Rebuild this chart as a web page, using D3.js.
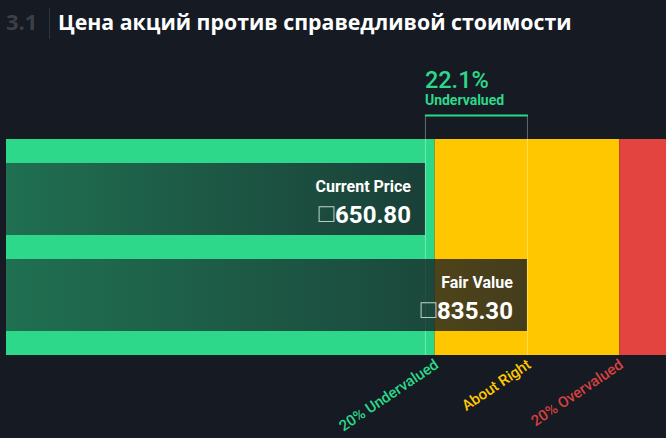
<!DOCTYPE html>
<html><head><meta charset="utf-8">
<script src="https://cdn.jsdelivr.net/npm/d3@7"></script>
<style>
html,body{margin:0;padding:0;background:#151a23;}
svg{display:block;}
</style></head>
<body>
<svg id="chart" width="666" height="438"></svg>
<script>
// ---- data ----
const currency = "\u25A1";
const barNames = ["Current Price", "Fair Value"];
const barValues = [650.80, 835.30];
const fairValue = 835.30;
const zoneNames = ["20% Undervalued", "About Right", "20% Overvalued"];
const zoneBounds = [0.8, 1.2]; // multiples of fair value
const diffPct = 22.1;
const diffLabel = "Undervalued";
const domainMin = -107, domainMax = 1086.9;
const sectionNum = "3.1";
const title = "Цена акций против справедливой стоимости";

(function(){
const W = 666, H = 438;
const C = {bg:"#151a23", green:"#2dd88a", yellow:"#ffc700", red:"#e4443f"};
const svg = d3.select("#chart");

const x = d3.scaleLinear().domain([domainMin, domainMax]).range([6, W]);
const y = d3.scaleBand().domain(barNames).range([139, 355]).paddingInner(0.25).paddingOuter(0.25);

// title
svg.append("text").attr("x", 6).attr("y", 30).text(sectionNum)
  .attr("font-family","Open Sans").attr("font-weight",700).attr("font-size",22).attr("fill","#3a3f48");
svg.append("line").attr("x1",49.5).attr("x2",49.5).attr("y1",8).attr("y2",39).attr("stroke","#2f353f").attr("stroke-width",1);
svg.append("text").attr("x", 58).attr("y", 30).text(title)
  .attr("font-family","Open Sans").attr("font-weight",700).attr("font-size",21.3).attr("fill","#ffffff");

// zones
const b0 = fairValue*zoneBounds[0], b1 = fairValue*zoneBounds[1];
const zones = [
  {from: domainMin, to: b0, color: C.green},
  {from: b0, to: b1, color: C.yellow},
  {from: b1, to: domainMax, color: C.red}
];
const yTop = y.range()[0], yBot = y.range()[1];
svg.append("g").selectAll("rect").data(zones).join("rect")
  .attr("x", d => x(d.from)).attr("width", d => x(d.to) - x(d.from))
  .attr("y", yTop).attr("height", yBot - yTop).attr("fill", d => d.color);

// bracket lines
const xc = x(barValues[0]), xf = x(barValues[1]);
const brTop = 115.5;
svg.append("g").selectAll("line").data([xc, xf]).join("line")
  .attr("x1", d => d + 0.5).attr("x2", d => d + 0.5).attr("y1", brTop).attr("y2", yBot)
  .attr("stroke","#ffffff").attr("stroke-opacity",0.35).attr("stroke-width",1);

// gradient
const defs = svg.append("defs");
const gr = defs.append("linearGradient").attr("id","barGrad").attr("x1","0").attr("x2","1").attr("y1","0").attr("y2","0");
gr.append("stop").attr("offset","0%").attr("stop-color",C.bg).attr("stop-opacity",0.55);
gr.append("stop").attr("offset","100%").attr("stop-color",C.bg).attr("stop-opacity",0.8);

const bars = barNames.map((n,i) => ({name:n, value:barValues[i]}));
svg.append("g").selectAll("rect").data(bars).join("rect")
  .attr("x", x(domainMin)).attr("y", d => y(d.name))
  .attr("width", d => x(d.value) - x(domainMin)).attr("height", y.bandwidth())
  .attr("fill","url(#barGrad)");

const lab = svg.append("g").selectAll("g").data(bars).join("g");
lab.append("text").attr("x", d => x(d.value) - 14).attr("y", d => y(d.name) + 28.5)
  .attr("text-anchor","end").attr("font-family","Roboto").attr("font-weight",700).attr("font-size",16)
  .attr("fill","#ffffff").text(d => d.name);
const vt = lab.append("text").attr("x", d => x(d.value) - 14).attr("y", d => y(d.name) + 59.5)
  .attr("text-anchor","end").attr("font-family","Roboto").attr("font-weight",700).attr("font-size",24)
  .attr("fill","#ffffff");
vt.append("tspan").attr("font-family","DejaVu Sans ExtraLight, DejaVu Sans").attr("font-weight",200)
  .attr("font-size",26).attr("fill","#d8e0dc").attr("fill-opacity",0.85).attr("dy",-0.5).text(currency);
vt.append("tspan").attr("dy",0.5).attr("dx",1).text(d => d.value.toFixed(2));

// bracket top
svg.append("line").attr("x1", xc).attr("x2", xf + 1).attr("y1", brTop).attr("y2", brTop)
  .attr("stroke", C.green).attr("stroke-width", 2);
svg.append("text").attr("x", xc).attr("y", 88).text(diffPct.toFixed(1) + "%")
  .attr("font-family","Roboto").attr("font-weight",500).attr("font-size",23.5).attr("fill",C.green);
svg.append("text").attr("x", xc).attr("y", 105).text(diffLabel)
  .attr("font-family","Roboto").attr("font-weight",700).attr("font-size",14).attr("fill",C.green);

// zone labels
const zoneLabelX = [b0, fairValue, b1];
const zoneColors = [C.green, C.yellow, "#d6413f"];
svg.append("g").selectAll("text").data(zoneNames).join("text")
  .attr("transform", (d,i) => `translate(${x(zoneLabelX[i]) + 5},${367}) rotate(-34)`)
  .attr("text-anchor","end").attr("font-family","Roboto").attr("font-weight",500).attr("font-size",15)
  .attr("fill", (d,i) => zoneColors[i]).text(d => d);
})();
</script>
</body></html>
